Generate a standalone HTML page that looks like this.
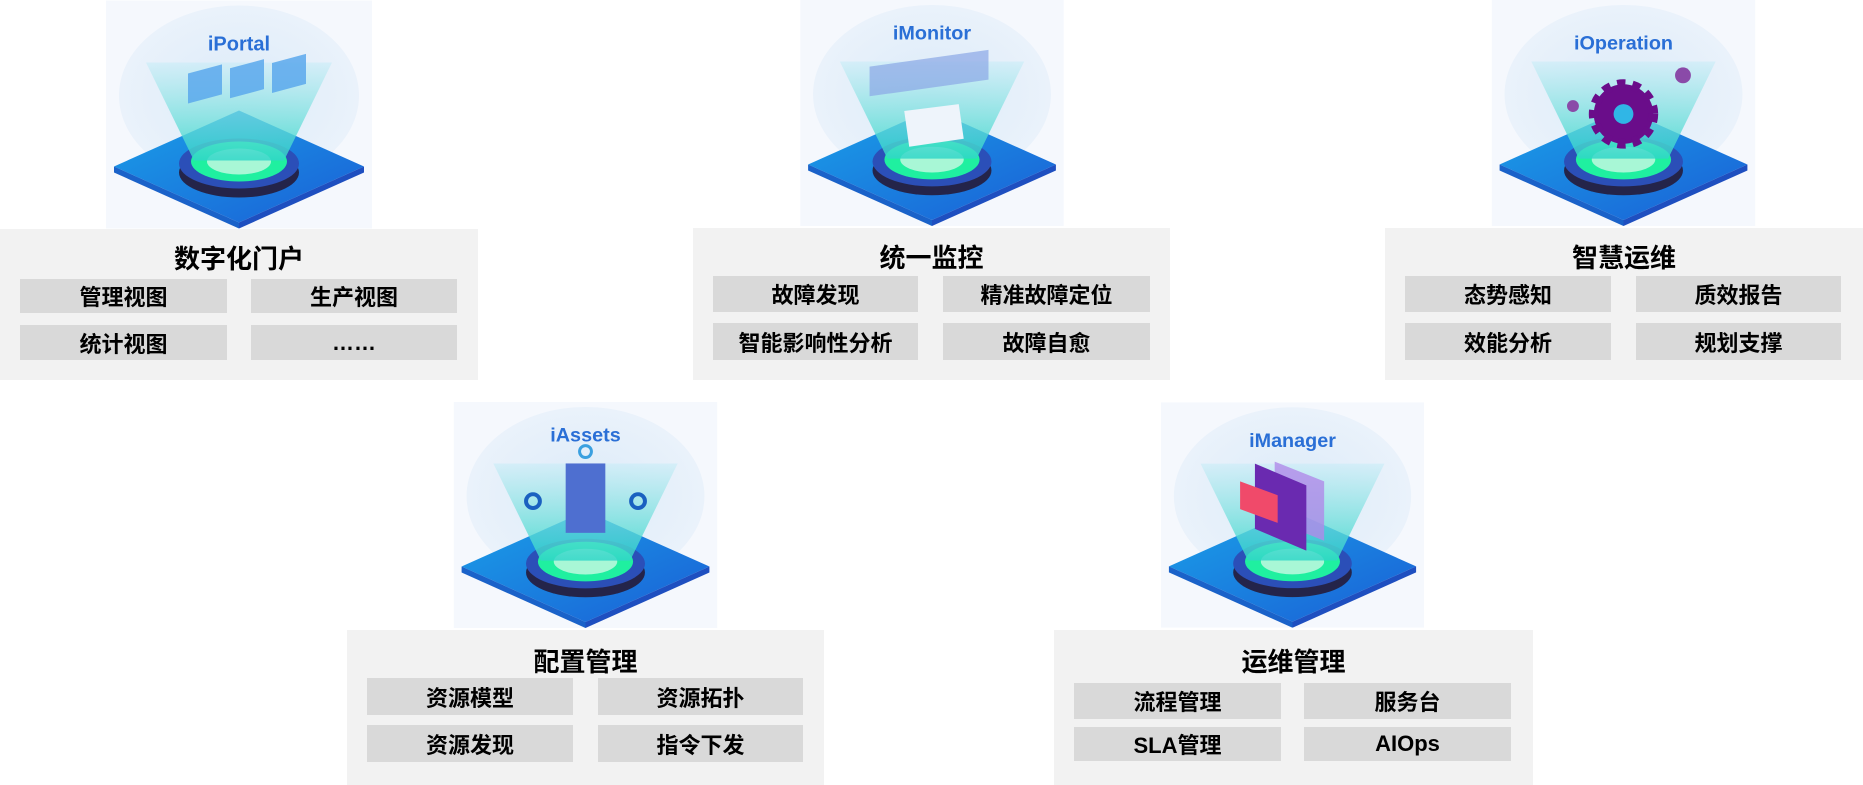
<!DOCTYPE html>
<html><head><meta charset="utf-8"><style>
body{margin:0;width:1863px;height:785px;background:#fff;position:relative;overflow:hidden;font-family:"Liberation Sans","Noto Sans CJK SC",sans-serif}
.box{position:absolute;background:#f2f2f2}
.t{position:absolute;left:0;right:0;text-align:center;font-weight:bold;font-size:26px;color:#000}
.it{position:absolute;background:#d9d9d9;text-align:center;font-weight:bold;font-size:22px;color:#000;display:flex;align-items:center;justify-content:center}
svg{position:absolute}
</style></head><body>
<svg width="0" height="0" style="position:absolute"><defs>
<radialGradient id="halo" cx="50%" cy="50%" r="50%"><stop offset="0" stop-color="#dcebf8"/><stop offset="1" stop-color="#eaf2fb"/></radialGradient>
<linearGradient id="beam" x1="0" y1="0" x2="0" y2="1"><stop offset="0" stop-color="#c9ecf7" stop-opacity=".6"/><stop offset="1" stop-color="#30d6c8" stop-opacity=".85"/></linearGradient>
<linearGradient id="plate" x1="0" y1="0" x2="1" y2="1"><stop offset="0" stop-color="#1aa0e8"/><stop offset="1" stop-color="#1a5fd6"/></linearGradient>
<symbol id="base" viewBox="0 0 266 228">
<rect width="266" height="228" fill="#f5f8fd"/>
<ellipse cx="133" cy="95" rx="120" ry="90" fill="url(#halo)"/>
<polygon points="8,166 133,110 258,166 133,222" fill="url(#plate)"/>
<polygon points="8,166 133,222 133,228 8,172" fill="#1a62c9"/>
<polygon points="258,166 133,222 133,228 258,172" fill="#1e4fc0"/>
<ellipse cx="133" cy="172" rx="60" ry="25" fill="#24244a"/>
<ellipse cx="133" cy="163" rx="60" ry="25" fill="#2b4fb8"/>
<ellipse cx="133" cy="161" rx="48" ry="20" fill="#1ff0a0"/>
<ellipse cx="133" cy="161" rx="32" ry="13" fill="#a8f7d6"/>
<polygon points="40,62 226,62 178,160 88,160" fill="url(#beam)"/>
</symbol>
</defs></svg>

<!-- iPortal -->
<svg style="left:106px;top:0" width="266" height="229" viewBox="0 0 266 228"><use href="#base"/>
<rect x="82" y="70" width="34" height="30" fill="#5aa8ec" opacity=".85" transform="skewY(-15) translate(0,25)"/>
<rect x="124" y="66" width="34" height="30" fill="#5aa8ec" opacity=".85" transform="skewY(-15) translate(0,35)"/>
<rect x="166" y="62" width="34" height="30" fill="#5aa8ec" opacity=".85" transform="skewY(-15) translate(0,45)"/>
<text x="133" y="50" text-anchor="middle" font-weight="bold" font-size="20" fill="#2a6fd6">iPortal</text></svg>
<div class="box" style="left:0;top:229px;width:478px;height:151px"><div class="t" style="top:10px">数字化门户</div>
<div class="it" style="left:20px;top:50px;width:207px;height:34px">管理视图</div>
<div class="it" style="left:251px;top:50px;width:206px;height:34px">生产视图</div>
<div class="it" style="left:20px;top:96px;width:207px;height:35px">统计视图</div>
<div class="it" style="left:251px;top:96px;width:206px;height:35px">……</div></div>

<!-- iMonitor -->
<svg style="left:800px;top:0" width="264" height="226" viewBox="0 0 266 228"><use href="#base"/>
<rect x="70" y="62" width="120" height="30" fill="#8aa7e6" opacity=".7" transform="skewY(-8) translate(0,15)"/>
<polygon points="105,112 160,105 165,140 110,148" fill="#eef4fb"/>
<text x="133" y="40" text-anchor="middle" font-weight="bold" font-size="20" fill="#2a6fd6">iMonitor</text></svg>
<div class="box" style="left:693px;top:228px;width:477px;height:152px"><div class="t" style="top:10px">统一监控</div>
<div class="it" style="left:20px;top:48px;width:205px;height:36px">故障发现</div>
<div class="it" style="left:250px;top:48px;width:207px;height:36px">精准故障定位</div>
<div class="it" style="left:20px;top:95px;width:205px;height:37px">智能影响性分析</div>
<div class="it" style="left:250px;top:95px;width:207px;height:37px">故障自愈</div></div>

<!-- iOperation -->
<svg style="left:1491px;top:0" width="265" height="226" viewBox="0 0 266 228"><use href="#base"/>
<circle cx="133" cy="115" r="30" fill="#6a0d8a" stroke="#6a0d8a" stroke-width="10" stroke-dasharray="8 7"/>
<circle cx="133" cy="115" r="10" fill="#30b6e6"/>
<circle cx="193" cy="76" r="8" fill="#8a4aa8"/><circle cx="82" cy="107" r="6" fill="#8a4aa8"/>
<text x="133" y="50" text-anchor="middle" font-weight="bold" font-size="20" fill="#2a6fd6">iOperation</text></svg>
<div class="box" style="left:1385px;top:228px;width:478px;height:152px"><div class="t" style="top:10px">智慧运维</div>
<div class="it" style="left:20px;top:48px;width:206px;height:36px">态势感知</div>
<div class="it" style="left:251px;top:48px;width:205px;height:36px">质效报告</div>
<div class="it" style="left:20px;top:95px;width:206px;height:37px">效能分析</div>
<div class="it" style="left:251px;top:95px;width:205px;height:37px">规划支撑</div></div>

<!-- iAssets -->
<svg style="left:453px;top:402px" width="265" height="226" viewBox="0 0 266 228"><use href="#base"/>
<rect x="113" y="62" width="40" height="70" fill="#4e6fd0"/>
<circle cx="133" cy="50" r="6" fill="none" stroke="#3aa0e0" stroke-width="3"/>
<circle cx="80" cy="100" r="7" fill="none" stroke="#1a60c0" stroke-width="4"/>
<circle cx="186" cy="100" r="7" fill="none" stroke="#1a60c0" stroke-width="4"/>
<text x="133" y="40" text-anchor="middle" font-weight="bold" font-size="20" fill="#2a6fd6">iAssets</text></svg>
<div class="box" style="left:347px;top:630px;width:477px;height:155px"><div class="t" style="top:12px">配置管理</div>
<div class="it" style="left:20px;top:48px;width:206px;height:37px">资源模型</div>
<div class="it" style="left:251px;top:48px;width:205px;height:37px">资源拓扑</div>
<div class="it" style="left:20px;top:95px;width:206px;height:37px">资源发现</div>
<div class="it" style="left:251px;top:95px;width:205px;height:37px">指令下发</div></div>

<!-- iManager -->
<svg style="left:1161px;top:402px" width="263" height="226" viewBox="0 0 266 228"><use href="#base"/>
<polygon points="115,60 165,80 165,140 115,120" fill="#b08ae8" opacity=".8"/>
<polygon points="95,62 147,84 147,150 95,128" fill="#6a2ab0"/>
<polygon points="80,80 118,94 118,122 80,108" fill="#f04a6a"/>
<text x="133" y="45" text-anchor="middle" font-weight="bold" font-size="20" fill="#2a6fd6">iManager</text></svg>
<div class="box" style="left:1054px;top:630px;width:479px;height:155px"><div class="t" style="top:12px">运维管理</div>
<div class="it" style="left:20px;top:53px;width:207px;height:36px">流程管理</div>
<div class="it" style="left:250px;top:53px;width:207px;height:36px">服务台</div>
<div class="it" style="left:20px;top:97px;width:207px;height:34px">SLA管理</div>
<div class="it" style="left:250px;top:97px;width:207px;height:34px">AIOps</div></div>
</body></html>
